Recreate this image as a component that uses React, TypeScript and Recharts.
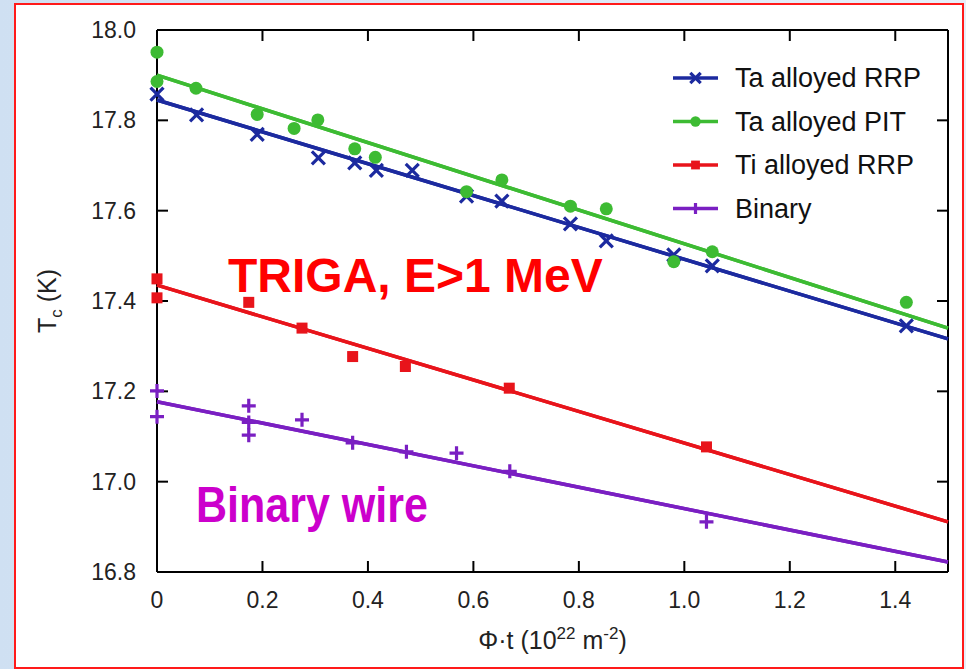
import React from 'react';
import { ScatterChart, Scatter, XAxis, YAxis, Legend } from 'recharts';

const xTicks = [0, 0.2, 0.4, 0.6, 0.8, 1.0, 1.2, 1.4];
const yTicks = [16.8, 17.0, 17.2, 17.4, 17.6, 17.8, 18.0];
const xDomain = [0, 1.5];
const yDomain = [16.8, 18.0];

const taRrp = [
  { x: 0, y: 17.858 }, { x: 0.075, y: 17.812 }, { x: 0.19, y: 17.769 }, { x: 0.306, y: 17.717 },
  { x: 0.375, y: 17.706 }, { x: 0.416, y: 17.689 }, { x: 0.484, y: 17.689 }, { x: 0.587, y: 17.632 },
  { x: 0.654, y: 17.621 }, { x: 0.784, y: 17.571 }, { x: 0.852, y: 17.533 }, { x: 0.98, y: 17.502 },
  { x: 1.053, y: 17.478 }, { x: 1.421, y: 17.345 },
];
const taPit = [
  { x: 0, y: 17.951 }, { x: 0, y: 17.886 }, { x: 0.074, y: 17.871 }, { x: 0.19, y: 17.813 },
  { x: 0.26, y: 17.782 }, { x: 0.305, y: 17.801 }, { x: 0.375, y: 17.737 }, { x: 0.414, y: 17.718 },
  { x: 0.587, y: 17.642 }, { x: 0.654, y: 17.668 }, { x: 0.784, y: 17.61 }, { x: 0.852, y: 17.604 },
  { x: 0.98, y: 17.487 }, { x: 1.053, y: 17.509 }, { x: 1.421, y: 17.397 },
];
const tiRrp = [
  { x: 0, y: 17.449 }, { x: 0, y: 17.407 }, { x: 0.174, y: 17.397 }, { x: 0.275, y: 17.34 },
  { x: 0.371, y: 17.277 }, { x: 0.471, y: 17.255 }, { x: 0.668, y: 17.207 }, { x: 1.042, y: 17.077 },
];
const binary = [
  { x: 0, y: 17.201 }, { x: 0, y: 17.144 }, { x: 0.174, y: 17.168 }, { x: 0.174, y: 17.131 },
  { x: 0.174, y: 17.103 }, { x: 0.275, y: 17.137 }, { x: 0.371, y: 17.086 }, { x: 0.473, y: 17.066 },
  { x: 0.568, y: 17.063 }, { x: 0.669, y: 17.023 }, { x: 1.042, y: 16.911 },
];

const fitTaRrp = [{ x: 0, y: 17.845 }, { x: 1.5, y: 17.316 }];
const fitTaPit = [{ x: 0, y: 17.9 }, { x: 1.5, y: 17.34 }];
const fitTiRrp = [{ x: 0, y: 17.435 }, { x: 1.5, y: 16.911 }];
const fitBinary = [{ x: 0, y: 17.177 }, { x: 1.5, y: 16.822 }];

const seriesNames = ['Ta alloyed RRP', 'Ta alloyed PIT', 'Ti alloyed RRP', 'Binary'];
const seriesColors = ['#1c2a9f', '#3dbb33', '#e8141b', '#7a1fc2'];
const seriesKinds = ['cross', 'circle', 'square', 'plus'];

const FONT = '"Liberation Sans", Arial, Helvetica, sans-serif';

const CHART_W = 966;
const CHART_H = 669;
const MARGIN = { top: 29, right: 17, bottom: 36, left: 96 };
const X_AXIS_H = 60;
const Y_AXIS_W = 60;
const FRAME_AXIS = 1;
const TICK_LEN = 11;

function Marker({ kind, cx, cy, color, s = 1 }: any) {
  if (cx == null || cy == null) return null;
  if (kind === 'cross') {
    const h = 6.5 * s;
    return (
      <path d={`M${cx - h},${cy - h}L${cx + h},${cy + h}M${cx - h},${cy + h}L${cx + h},${cy - h}`} stroke={color} strokeWidth={3.2} fill="none" />
    );
  }
  if (kind === 'plus') {
    const h = 7 * s;
    return (
      <path d={`M${cx - h},${cy}L${cx + h},${cy}M${cx},${cy - h}L${cx},${cy + h}`} stroke={color} strokeWidth={3.2} fill="none" />
    );
  }
  if (kind === 'square') {
    const h = 5.5 * s;
    return <rect x={cx - h} y={cy - h} width={2 * h} height={2 * h} fill={color} />;
  }
  return <circle cx={cx} cy={cy} r={6.5 * s} fill={color} />;
}

const fmtX = (v: number) => (v === 0 ? '0' : v.toFixed(1));

const renderNoTick = () => <g />;

const renderBottomLabel = (p: any) => (
  <text x={p.x} y={p.y + 35} textAnchor="middle" fontSize={23} fontFamily={FONT} fill="#222">{fmtX(p.payload.value)}</text>
);
const renderLeftLabel = (p: any) => (
  <text x={p.x - 20} y={p.y + 8} textAnchor="end" fontSize={23} fontFamily={FONT} fill="#222">{p.payload.value.toFixed(1)}</text>
);

const YTitle = (p: any) => {
  const vb = p.viewBox;
  const cx = vb.x - 40;
  const cy = vb.y + vb.height / 2;
  return (
    <text x={cx} y={cy} transform={`rotate(-90 ${cx} ${cy})`} textAnchor="middle" fontSize={25} fontFamily={FONT} fill="#222">
      T<tspan fontSize={17} dy={6}>c</tspan><tspan dy={-6}> (K)</tspan>
    </text>
  );
};

const XTitle = (p: any) => {
  const vb = p.viewBox;
  const cx = vb.x + vb.width / 2;
  return (
    <text x={cx} y={vb.y + 76} textAnchor="middle" fontSize={25} fontFamily={FONT} fill="#222">
      Φ·t (10<tspan fontSize={17} dy={-10}>22</tspan><tspan dy={10}> m</tspan><tspan fontSize={17} dy={-10}>-2</tspan><tspan dy={10}>)</tspan>
    </text>
  );
};

const LegendBox = () => (
  <svg width={300} height={180}>
    {seriesNames.map((n, i) => {
      const y = 20 + i * 43.5;
      return (
        <g key={n}>
          <line x1={8} y1={y} x2={53} y2={y} stroke={seriesColors[i]} strokeWidth={3.5} />
          <Marker kind={seriesKinds[i]} cx={30.5} cy={y} color={seriesColors[i]} s={0.8} />
          <text x={70} y={y + 9} fontSize={27} fontFamily={FONT} fill="#111">{n}</text>
        </g>
      );
    })}
  </svg>
);

const pointSeries = [taRrp, taPit, tiRrp, binary];
const fitSeries = [fitTaRrp, fitTaPit, fitTiRrp, fitBinary];

const axisLineStyle = { stroke: '#000', strokeWidth: 2 };
const tickLineStyle = { stroke: '#000', strokeWidth: 2 };

export default function App() {
  return (
    <div style={{ position: 'absolute', left: 0, top: 0, width: CHART_W, height: CHART_H, background: 'linear-gradient(to right, #cfe0f2, #e6eff9)', overflow: 'hidden' }}>
      <div style={{ position: 'absolute', left: 14, top: 3, width: 950, height: 666, border: '2px solid #ff1a1a', boxSizing: 'border-box', background: '#fff' }} />
      <div style={{ position: 'absolute', left: 0, top: 0 }}>
        <ScatterChart width={CHART_W} height={CHART_H} margin={MARGIN}>
          {/* thin frame axes carrying the inward ticks: declared first so they sit right at the plot edge */}
          <XAxis xAxisId="xb" orientation="bottom" dataKey="x" type="number" domain={xDomain} ticks={xTicks} height={FRAME_AXIS}
            tickSize={-TICK_LEN} tickMargin={0} axisLine={axisLineStyle} tickLine={tickLineStyle} tick={renderNoTick} />
          <YAxis yAxisId="yl" orientation="left" dataKey="y" type="number" domain={yDomain} ticks={yTicks} width={FRAME_AXIS}
            tickSize={-TICK_LEN} tickMargin={0} axisLine={axisLineStyle} tickLine={tickLineStyle} tick={renderNoTick} />
          <XAxis xAxisId="xt" orientation="top" dataKey="x" type="number" domain={xDomain} ticks={xTicks} height={FRAME_AXIS}
            tickSize={-TICK_LEN} tickMargin={0} axisLine={axisLineStyle} tickLine={tickLineStyle} tick={renderNoTick} />
          <YAxis yAxisId="yr" orientation="right" dataKey="y" type="number" domain={yDomain} ticks={yTicks} width={FRAME_AXIS}
            tickSize={-TICK_LEN} tickMargin={0} axisLine={axisLineStyle} tickLine={tickLineStyle} tick={renderNoTick} />
          {/* labelled axes, stacked just outside the frame axes */}
          <XAxis xAxisId="xlab" orientation="bottom" dataKey="x" type="number" domain={xDomain} ticks={xTicks} height={X_AXIS_H}
            tickSize={0} tickMargin={0} axisLine={false} tickLine={false} tick={renderBottomLabel} label={<XTitle />} />
          <YAxis yAxisId="ylab" orientation="left" dataKey="y" type="number" domain={yDomain} ticks={yTicks} width={Y_AXIS_W}
            tickSize={0} tickMargin={0} axisLine={false} tickLine={false} tick={renderLeftLabel} label={<YTitle />} />
          {fitSeries.map((d, i) => (
            <Scatter key={'fitA' + i} data={d} xAxisId="xt" yAxisId="yr" line={{ stroke: seriesColors[i], strokeWidth: 3.5 }}
              shape={() => <g />} isAnimationActive={false} legendType="none" />
          ))}
          {fitSeries.map((d, i) => (
            <Scatter key={'fitB' + i} data={d} xAxisId="xb" yAxisId="yl" line={{ stroke: seriesColors[i], strokeWidth: 3.5 }}
              shape={() => <g />} isAnimationActive={false} legendType="none" />
          ))}
          {pointSeries.map((d, i) => (
            <Scatter key={'pts' + i} name={seriesNames[i]} data={d} xAxisId="xlab" yAxisId="ylab" fill={seriesColors[i]}
              shape={(p: any) => <Marker kind={seriesKinds[i]} cx={p.cx} cy={p.cy} color={seriesColors[i]} />} isAnimationActive={false} />
          ))}
          <Legend layout="vertical" align="center" verticalAlign="middle" content={<LegendBox />}
            wrapperStyle={{ position: 'absolute', left: 665, top: 58, width: 300, height: 180 }} />
        </ScatterChart>
      </div>
      <div style={{ position: 'absolute', left: 228, top: 246, fontFamily: FONT, fontWeight: 'bold', fontSize: 48, color: '#ff0000', whiteSpace: 'nowrap', lineHeight: '60px' }}>
        TRIGA, E&gt;1 MeV
      </div>
      <div style={{ position: 'absolute', left: 196, top: 475, fontFamily: FONT, fontWeight: 'bold', fontSize: 50, color: '#cc00cc', whiteSpace: 'nowrap', lineHeight: '60px', transform: 'scaleX(0.86)', transformOrigin: 'left center' }}>
        Binary wire
      </div>
    </div>
  );
}
